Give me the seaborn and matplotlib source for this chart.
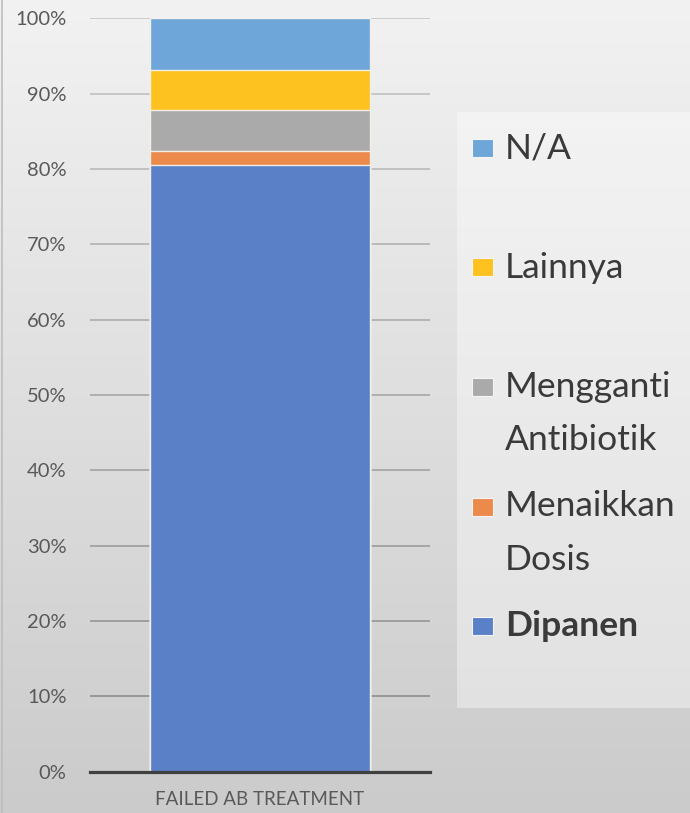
import numpy as np
import matplotlib
matplotlib.use("Agg")
import matplotlib.pyplot as plt
import seaborn as sns
from matplotlib.colors import LinearSegmentedColormap, to_hex
from matplotlib.patches import Rectangle

# data (percent of cases)
category = ["FAILED AB TREATMENT"]
series = ["Dipanen", "Menaikkan\nDosis", "Mengganti\nAntibiotik", "Lainnya", "N/A"]
values = [80.5, 1.9, 5.4, 5.3, 6.9]
colors = ["#5a80c8", "#ec8a4c", "#aaaaaa", "#fdc21f", "#6fa6da"]
y_ticks = [0, 10, 20, 30, 40, 50, 60, 70, 80, 90, 100]

sns.set_theme(style="white")
plt.rcParams['font.family'] = ['Lato', 'DejaVu Sans']

W, H = 690, 813
fig = plt.figure(figsize=(W / 100, H / 100), dpi=100)

# gray gradient background, light at the top
bg = fig.add_axes([0, 0, 1, 1], zorder=-10)
grad = np.linspace(0, 1, 256).reshape(-1, 1)
cmap = LinearSegmentedColormap.from_list("bg", ["#f2f2f2", "#cbcbcb"])
bg.imshow(grad, aspect="auto", cmap=cmap, extent=[0, 1, 0, 1], vmin=0, vmax=1)
bg.set_xlim(0, 1)
bg.set_ylim(0, 1)
bg.axis("off")
# legend panel
bg.add_patch(Rectangle((457 / W, 1 - 708 / H), 1 - 457 / W, (708 - 112) / H,
                       facecolor="white", alpha=0.38, edgecolor="none"))
bg.plot([2 / W, 2 / W], [0, 1], color="#bdbdbd", lw=1.2)

ax = fig.add_axes([90 / W, 1 - 771.5 / H, 340 / W, (771.5 - 18.3) / H])
ax.set_facecolor("none")

# stacked bar: draw cumulative totals from the top down
tops = np.cumsum(values)
for i in range(len(values) - 1, -1, -1):
    sns.barplot(x=category, y=[tops[i]], color=colors[i], saturation=1,
                width=0.647, edgecolor="#f3efe6", linewidth=1.0, ax=ax, zorder=3)

ax.set_xlim(-0.5, 0.5)
ax.set_ylim(0, 100)
ax.set_yticks(y_ticks)
ax.set_yticklabels([f"{t}%" for t in y_ticks])
ax.yaxis.grid(True, linewidth=1.3)
ax.set_axisbelow(True)
# gridlines get darker towards the bottom, like the reference
gcmap = LinearSegmentedColormap.from_list("grid", ["#8e8e8e", "#c9c9c9"])
for t, gl in zip(y_ticks, ax.get_ygridlines()):
    gl.set_color(to_hex(gcmap(t / 100)))
ax.tick_params(axis="y", length=0, pad=17, labelsize=14.5, labelcolor="#595959")
ax.tick_params(axis="x", length=0, pad=14, labelsize=13.5, labelcolor="#595959")
for s in ["left", "right", "top"]:
    ax.spines[s].set_visible(False)
ax.spines["bottom"].set_color("#404040")
ax.spines["bottom"].set_linewidth(2.3)
ax.spines["bottom"].set_zorder(5)
ax.set_xlabel("")
ax.set_ylabel("")

# legend, top entry first
y0, step, line_gap = 148, 119.5, 53
for k, i in enumerate(range(len(series) - 1, -1, -1)):
    yc = y0 + step * k
    bg.add_patch(Rectangle((472 / W, 1 - (yc + 9) / H), 21 / W, 18 / H,
                           facecolor=colors[i], edgecolor="#f4f4f4", lw=0.8))
    for j, line in enumerate(series[i].split("\n")):
        bg.text(505 / W, 1 - (yc + j * line_gap) / H, line, fontsize=25.5,
                color="#3a3a3a", va="center", ha="left",
                fontweight="bold" if series[i] == "Dipanen" else "normal")

fig.savefig("out.png", dpi=100)
